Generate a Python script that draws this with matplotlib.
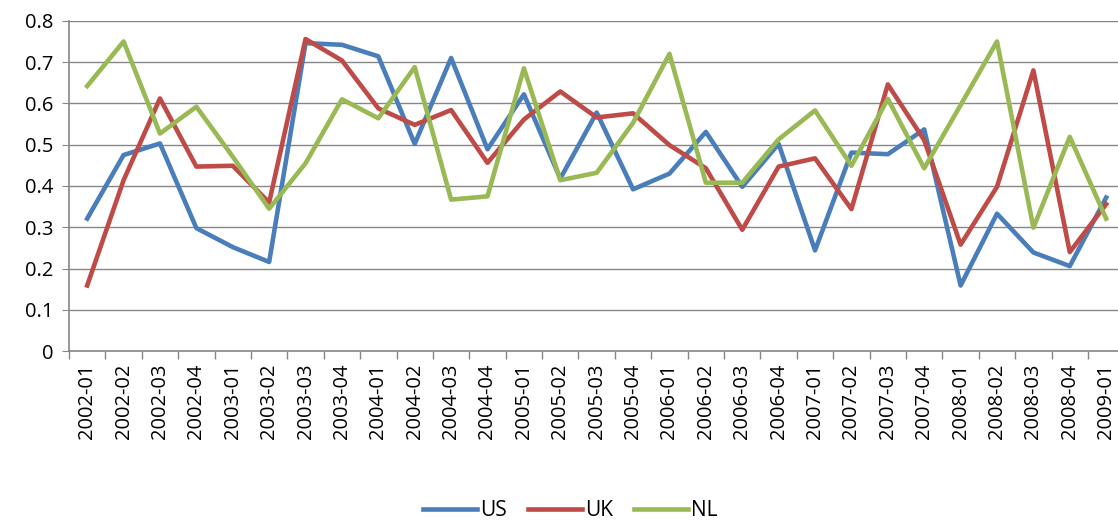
import numpy as np
import matplotlib
matplotlib.use("Agg")
import matplotlib.pyplot as plt

quarters = ["2002-01", "2002-02", "2002-03", "2002-04", "2003-01", "2003-02",
            "2003-03", "2003-04", "2004-01", "2004-02", "2004-03", "2004-04",
            "2005-01", "2005-02", "2005-03", "2005-04", "2006-01", "2006-02",
            "2006-03", "2006-04", "2007-01", "2007-02", "2007-03", "2007-04",
            "2008-01", "2008-02", "2008-03", "2008-04", "2009-01"]

us = [0.321, 0.475, 0.503, 0.298, 0.252, 0.216, 0.746, 0.742, 0.714, 0.502,
      0.710, 0.489, 0.622, 0.418, 0.578, 0.392, 0.430, 0.531, 0.398, 0.502,
      0.244, 0.481, 0.477, 0.537, 0.159, 0.333, 0.239, 0.206, 0.372]
uk = [0.159, 0.414, 0.612, 0.447, 0.449, 0.360, 0.756, 0.704, 0.588, 0.548,
      0.584, 0.456, 0.561, 0.629, 0.566, 0.576, 0.499, 0.443, 0.294, 0.447,
      0.467, 0.344, 0.646, 0.511, 0.258, 0.398, 0.680, 0.240, 0.356]
nl = [0.642, 0.750, 0.527, 0.592, 0.471, 0.345, 0.455, 0.610, 0.564, 0.688,
      0.367, 0.375, 0.685, 0.414, 0.432, 0.553, 0.720, 0.408, 0.408, 0.513,
      0.583, 0.449, 0.611, 0.443, 0.596, 0.750, 0.299, 0.519, 0.321]

plt.rcParams['font.family'] = ['Open Sans', 'DejaVu Sans']

fig = plt.figure(figsize=(11.18, 5.21), dpi=100)
ax = fig.add_axes([0.0617, 0.326, 0.944, 0.634])

x = np.arange(len(quarters))
ax.plot(x, us, color="#4A7EBB", lw=3.3, label="US", solid_joinstyle="round")
ax.plot(x, uk, color="#BE4B48", lw=3.3, label="UK", solid_joinstyle="round")
ax.plot(x, nl, color="#98B954", lw=3.3, label="NL", solid_joinstyle="round")

ax.set_xlim(-0.5, len(quarters) - 0.5)
ax.set_ylim(0, 0.8)
ax.set_yticks(np.arange(0, 0.81, 0.1))
ax.set_yticklabels(["0"] + ["%.1f" % v for v in np.arange(0.1, 0.81, 0.1)])
ax.yaxis.grid(True, color="#868686", lw=1)
ax.set_axisbelow(True)

# ticks between categories, labels on categories
ax.set_xticks(np.arange(-0.5, len(quarters), 1.0))
ax.set_xticklabels([])
ax.set_xticks(x, minor=True)
ax.set_xticklabels(quarters, minor=True, rotation=90, fontsize=14.5)
ax.tick_params(axis="x", which="major", length=6, color="#868686", width=1)
ax.tick_params(axis="x", which="minor", length=0, pad=9)
ax.tick_params(axis="y", length=5, color="#868686", labelsize=14.5, pad=6)

for s in ["top", "right"]:
    ax.spines[s].set_visible(False)
for s in ["left", "bottom"]:
    ax.spines[s].set_color("#868686")
    ax.spines[s].set_linewidth(1.2)

fig.legend(loc="lower center", bbox_to_anchor=(0.51, -0.036), ncol=3,
           frameon=False, fontsize=15, handlelength=2.6, columnspacing=1.0,
           handletextpad=0.15)

fig.savefig("out.png", dpi=100)
